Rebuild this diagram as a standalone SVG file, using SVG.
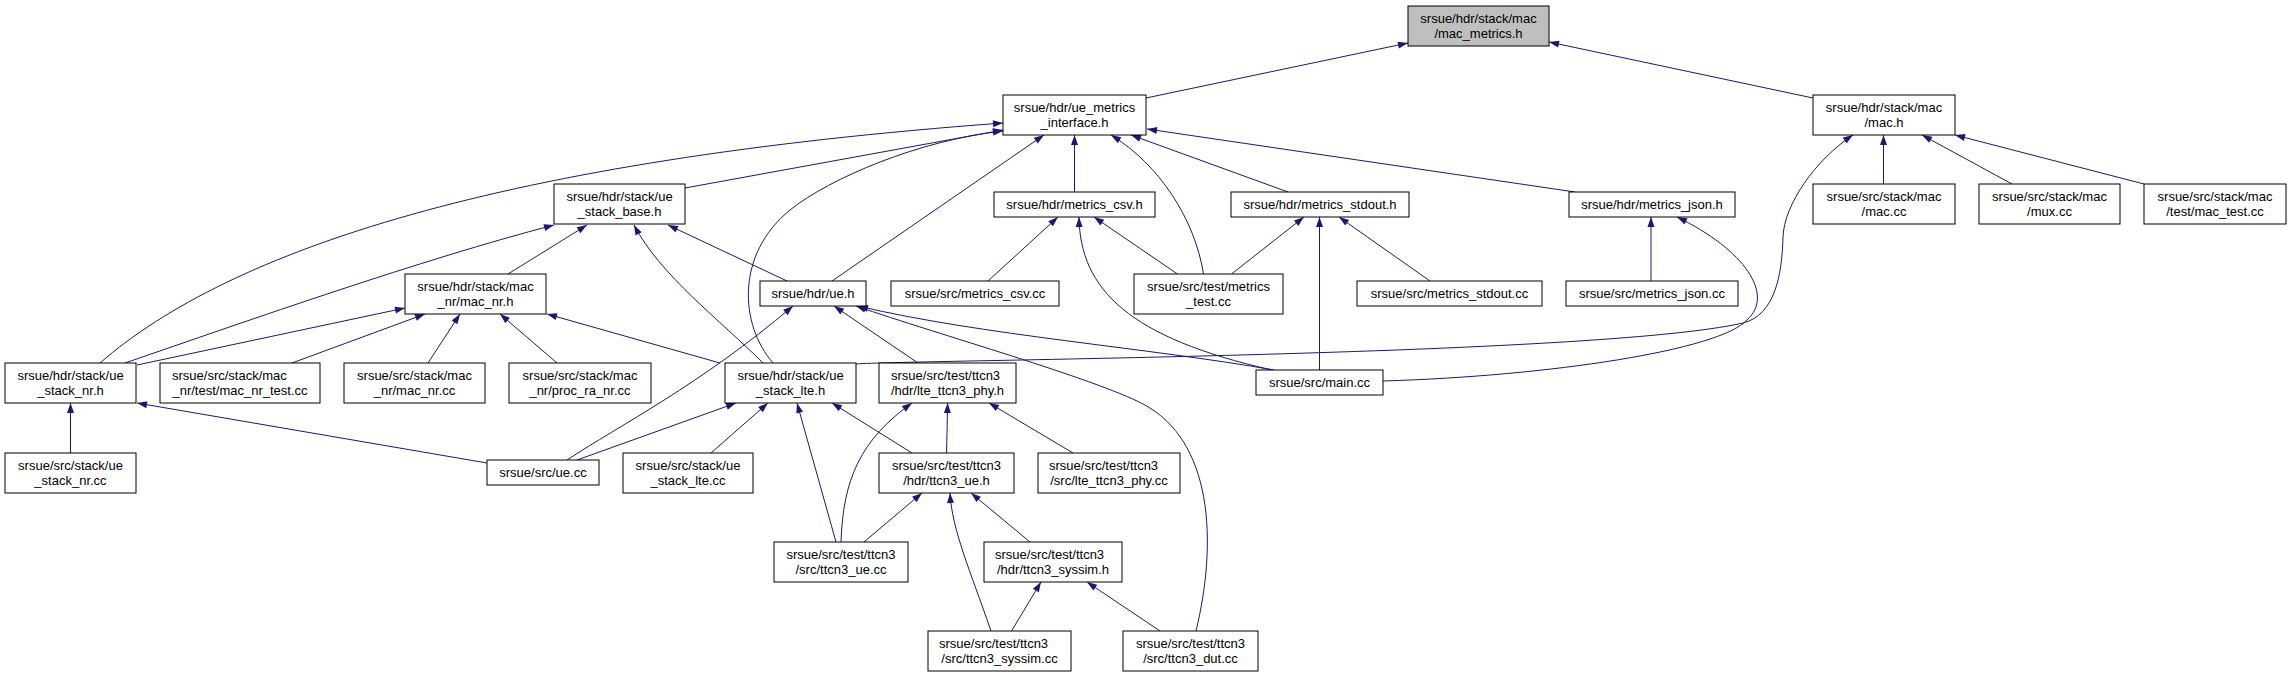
<svg xmlns="http://www.w3.org/2000/svg" width="2291" height="677" viewBox="0 0 2291 677">
<style>
.node rect{fill:#ffffff;stroke:#000000;stroke-width:1}
.root rect{fill:#bfbfbf;stroke:#000000;stroke-width:1}
text{font-family:"Liberation Sans",Arial,Helvetica,sans-serif;font-size:13px;fill:#000000}
.c{text-anchor:middle}
.l{text-anchor:start}
#edges path{fill:none;stroke:#191970;stroke-width:1;marker-end:url(#ah)}
</style>
<defs>
<marker id="ah" markerWidth="10" markerHeight="8" refX="10" refY="4" orient="auto" markerUnits="userSpaceOnUse" overflow="visible">
<path d="M0,0.5 L10,4 L0,7.5 z" fill="#191970" stroke="none"/>
</marker>
</defs>
<rect x="0" y="0" width="2291" height="677" fill="#ffffff"/>
<g id="edges">
<path d="M1146,98 L1408,43"/>
<path d="M1813,98 L1549,42"/>
<path d="M685,188 L1003,130"/>
<path d="M100,363 C230,250 500,160 1003,123"/>
<path d="M773,363 C740,325 735,255 790,210 C830,178 920,140 1003,131"/>
<path d="M832,281 L1044,135"/>
<path d="M1074.5,192 L1074.5,135"/>
<path d="M1203.5,274 C1195,220 1160,165 1111,135"/>
<path d="M1288,192 L1131,135"/>
<path d="M1575,192 L1147,129"/>
<path d="M508,274 L587,225"/>
<path d="M125,363 C250,320 420,260 554,225"/>
<path d="M763,363 C720,320 660,275 634,225"/>
<path d="M787,281 L668,225"/>
<path d="M137,365 L405,308"/>
<path d="M292,363 L425,314"/>
<path d="M428,363 L460,314"/>
<path d="M557,363 L500,314"/>
<path d="M720,363 L547,314"/>
<path d="M70.5,453 L70.5,403"/>
<path d="M487,463 L137,403"/>
<path d="M567,460 C620,425 700,385 793,306"/>
<path d="M918,363 L834,306"/>
<path d="M1274,370 C1150,348 980,335 858,306"/>
<path d="M1196,631 C1218,540 1212,440 1143,404 C1093,378 940,335 856,306"/>
<path d="M577,460 L736,403"/>
<path d="M711,453 L768,403"/>
<path d="M912,453 L832,403"/>
<path d="M836,542 L797,403"/>
<path d="M946.6,453 L947.6,403"/>
<path d="M841,542 C843,480 860,440 912,403"/>
<path d="M1073,453 L989,403"/>
<path d="M864,542 L922,493"/>
<path d="M1030,542 L971,493"/>
<path d="M991,631 C970,570 952,530 950,493"/>
<path d="M1011.5,631 L1041,582"/>
<path d="M1160,631 L1087,582"/>
<path d="M988,281 L1058,217"/>
<path d="M1177.5,274 L1094,217"/>
<path d="M1272,370 C1130,338 1080,290 1079,217"/>
<path d="M1231.5,274 L1304,217"/>
<path d="M1319.5,370 L1319.5,217"/>
<path d="M1430,281 L1339,217"/>
<path d="M1651,281 L1651,217"/>
<path d="M1383,381 C1550,376 1720,350 1747,320 C1775,295 1745,250 1677,217"/>
<path d="M1883.5,184 L1883.5,135"/>
<path d="M2012,184 L1922,135"/>
<path d="M2144,184 L1955,135"/>
<path d="M856,364 C900,360 1600,356 1743,323 C1775,315 1782,275 1783,237 C1784,205 1815,160 1853,135"/>
</g>
<g id="n_mac_metrics_h" class="root"><rect x="1408" y="6" width="141" height="40"/><text class="c" x="1478.5" y="23">srsue/hdr/stack/mac</text><text class="c" x="1478.5" y="37.5">/mac_metrics.h</text></g>
<g id="n_ue_metrics_interface_h" class="node"><rect x="1003" y="95" width="143" height="40"/><text class="c" x="1074.5" y="112">srsue/hdr/ue_metrics</text><text class="c" x="1074.5" y="126.5">_interface.h</text></g>
<g id="n_mac_h" class="node"><rect x="1813" y="95" width="142" height="40"/><text class="c" x="1884" y="112">srsue/hdr/stack/mac</text><text class="c" x="1884" y="126.5">/mac.h</text></g>
<g id="n_ue_stack_base_h" class="node"><rect x="554" y="184" width="131" height="40"/><text class="c" x="619.5" y="201">srsue/hdr/stack/ue</text><text class="c" x="619.5" y="215.5">_stack_base.h</text></g>
<g id="n_metrics_csv_h" class="node"><rect x="994" y="192" width="161" height="25"/><text class="c" x="1074.5" y="208.5">srsue/hdr/metrics_csv.h</text></g>
<g id="n_metrics_stdout_h" class="node"><rect x="1231" y="192" width="178" height="25"/><text class="c" x="1320" y="208.5">srsue/hdr/metrics_stdout.h</text></g>
<g id="n_metrics_json_h" class="node"><rect x="1569" y="192" width="166" height="25"/><text class="c" x="1652" y="208.5">srsue/hdr/metrics_json.h</text></g>
<g id="n_mac_cc" class="node"><rect x="1813" y="184" width="142" height="40"/><text class="c" x="1884" y="201">srsue/src/stack/mac</text><text class="c" x="1884" y="215.5">/mac.cc</text></g>
<g id="n_mux_cc" class="node"><rect x="1979" y="184" width="141" height="40"/><text class="c" x="2049.5" y="201">srsue/src/stack/mac</text><text class="c" x="2049.5" y="215.5">/mux.cc</text></g>
<g id="n_mac_test_cc" class="node"><rect x="2144" y="184" width="142" height="40"/><text class="c" x="2215" y="201">srsue/src/stack/mac</text><text class="c" x="2215" y="215.5">/test/mac_test.cc</text></g>
<g id="n_mac_nr_h" class="node"><rect x="405" y="274" width="141" height="40"/><text class="c" x="475.5" y="291">srsue/hdr/stack/mac</text><text class="c" x="475.5" y="305.5">_nr/mac_nr.h</text></g>
<g id="n_ue_h" class="node"><rect x="760" y="281" width="106" height="25"/><text class="c" x="813" y="297.5">srsue/hdr/ue.h</text></g>
<g id="n_metrics_csv_cc" class="node"><rect x="891" y="281" width="168" height="25"/><text class="c" x="975" y="297.5">srsue/src/metrics_csv.cc</text></g>
<g id="n_metrics_test_cc" class="node"><rect x="1134" y="274" width="149" height="40"/><text class="c" x="1208.5" y="291">srsue/src/test/metrics</text><text class="c" x="1208.5" y="305.5">_test.cc</text></g>
<g id="n_metrics_stdout_cc" class="node"><rect x="1357" y="281" width="185" height="25"/><text class="c" x="1449.5" y="297.5">srsue/src/metrics_stdout.cc</text></g>
<g id="n_metrics_json_cc" class="node"><rect x="1566" y="281" width="172" height="25"/><text class="c" x="1652" y="297.5">srsue/src/metrics_json.cc</text></g>
<g id="n_ue_stack_nr_h" class="node"><rect x="5" y="363" width="131" height="40"/><text class="c" x="70.5" y="380">srsue/hdr/stack/ue</text><text class="c" x="70.5" y="394.5">_stack_nr.h</text></g>
<g id="n_mac_nr_test_cc" class="node"><rect x="160" y="363" width="160" height="40"/><text class="l" x="172" y="380">srsue/src/stack/mac</text><text class="c" x="240" y="394.5">_nr/test/mac_nr_test.cc</text></g>
<g id="n_mac_nr_cc" class="node"><rect x="344" y="363" width="141" height="40"/><text class="c" x="414.5" y="380">srsue/src/stack/mac</text><text class="c" x="414.5" y="394.5">_nr/mac_nr.cc</text></g>
<g id="n_proc_ra_nr_cc" class="node"><rect x="509" y="363" width="142" height="40"/><text class="c" x="580" y="380">srsue/src/stack/mac</text><text class="c" x="580" y="394.5">_nr/proc_ra_nr.cc</text></g>
<g id="n_ue_stack_lte_h" class="node"><rect x="725" y="363" width="131" height="40"/><text class="c" x="790.5" y="380">srsue/hdr/stack/ue</text><text class="c" x="790.5" y="394.5">_stack_lte.h</text></g>
<g id="n_lte_ttcn3_phy_h" class="node"><rect x="879" y="363" width="137" height="40"/><text class="l" x="891" y="380">srsue/src/test/ttcn3</text><text class="c" x="947.5" y="394.5">/hdr/lte_ttcn3_phy.h</text></g>
<g id="n_main_cc" class="node"><rect x="1256" y="370" width="127" height="25"/><text class="c" x="1319.5" y="386.5">srsue/src/main.cc</text></g>
<g id="n_ue_stack_nr_cc" class="node"><rect x="5" y="453" width="131" height="40"/><text class="c" x="70.5" y="470">srsue/src/stack/ue</text><text class="c" x="70.5" y="484.5">_stack_nr.cc</text></g>
<g id="n_ue_cc" class="node"><rect x="487" y="460" width="112" height="25"/><text class="c" x="543" y="476.5">srsue/src/ue.cc</text></g>
<g id="n_ue_stack_lte_cc" class="node"><rect x="623" y="453" width="130" height="40"/><text class="c" x="688" y="470">srsue/src/stack/ue</text><text class="c" x="688" y="484.5">_stack_lte.cc</text></g>
<g id="n_ttcn3_ue_h" class="node"><rect x="879" y="453" width="135" height="40"/><text class="c" x="946.5" y="470">srsue/src/test/ttcn3</text><text class="c" x="946.5" y="484.5">/hdr/ttcn3_ue.h</text></g>
<g id="n_lte_ttcn3_phy_cc" class="node"><rect x="1038" y="453" width="142" height="40"/><text class="l" x="1049" y="470">srsue/src/test/ttcn3</text><text class="c" x="1109" y="484.5">/src/lte_ttcn3_phy.cc</text></g>
<g id="n_ttcn3_ue_cc" class="node"><rect x="774" y="542" width="134" height="40"/><text class="c" x="841" y="559">srsue/src/test/ttcn3</text><text class="c" x="841" y="573.5">/src/ttcn3_ue.cc</text></g>
<g id="n_ttcn3_syssim_h" class="node"><rect x="984" y="542" width="138" height="40"/><text class="l" x="995" y="559">srsue/src/test/ttcn3</text><text class="c" x="1053" y="573.5">/hdr/ttcn3_syssim.h</text></g>
<g id="n_ttcn3_syssim_cc" class="node"><rect x="928" y="631" width="143" height="40"/><text class="l" x="939" y="648">srsue/src/test/ttcn3</text><text class="c" x="999.5" y="662.5">/src/ttcn3_syssim.cc</text></g>
<g id="n_ttcn3_dut_cc" class="node"><rect x="1123" y="631" width="135" height="40"/><text class="c" x="1190.5" y="648">srsue/src/test/ttcn3</text><text class="c" x="1190.5" y="662.5">/src/ttcn3_dut.cc</text></g>
</svg>
